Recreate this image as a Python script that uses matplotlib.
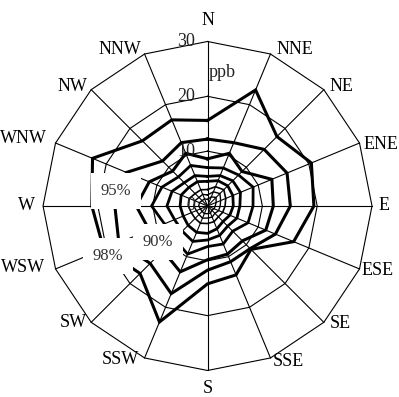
import numpy as np
import matplotlib
matplotlib.use("Agg")
import matplotlib.pyplot as plt

plt.rcParams['font.family'] = ['Liberation Serif', 'DejaVu Serif']

# wind sectors, clockwise from north
dirs = ['N', 'NNE', 'NE', 'ENE', 'E', 'ESE', 'SE', 'SSE',
        'S', 'SSW', 'SW', 'WSW', 'W', 'WNW', 'NW', 'NNW']

# concentration percentiles per sector (ppb), innermost first
p10 = [1.2, 1.8, 2.2, 1.7, 1.4, 1.3, 1.1, 1.4, 1.4, 1.5, 1.4, 1.4, 1.6, 1.6, 1.4, 1.4]
p25 = [2.0, 2.8, 3.2, 2.6, 2.3, 2.2, 1.9, 2.2, 2.2, 2.4, 2.2, 2.2, 2.5, 2.5, 2.2, 2.3]
p50 = [3.0, 3.8, 4.2, 3.6, 3.2, 3.0, 2.8, 3.1, 3.2, 3.4, 3.2, 3.2, 3.5, 3.6, 3.2, 3.2]
p75 = [4.5, 5.0, 5.2, 5.0, 4.7, 4.4, 4.0, 4.5, 5.0, 5.2, 5.0, 4.8, 5.0, 5.2, 4.8, 4.8]
p80 = [5.4, 6.0, 6.5, 6.5, 5.9, 5.8, 5.2, 5.8, 6.2, 7.0, 6.5, 6.5, 7.4, 7.0, 6.0, 6.0]
p85 = [7.0, 7.5, 8.0, 9.0, 8.3, 8.0, 6.5, 7.5, 7.4, 9.5, 8.5, 8.5, 10.2, 9.0, 7.5, 8.0]
p90 = [8.6, 10.4, 8.9, 12.7, 12.0, 11.5, 9.0, 9.5, 9.8, 13.0, 11.5, 11.5, 13.0, 11.5, 9.0, 10.4]
p95 = [12.2, 12.5, 14.6, 15.7, 15.1, 13.4, 11.0, 11.0, 11.7, 17.3, 14.8, 17.5, 16.9, 16.0, 11.6, 12.5]
p98 = [15.6, 22.9, 17.9, 20.5, 19.4, 17.0, 11.2, 13.6, 14.2, 22.9, 17.4, 20.5, 21.1, 22.7, 16.8, 17.0]

series = [p10, p25, p50, p75, p80, p85, p90, p95, p98]
widths = [1.0, 1.0, 1.2, 2.0, 2.0, 2.0, 2.2, 2.2, 2.2]

rings = [10, 20, 30]
ring_labels = ['0', '10', '20', '30']

# label placement (compass deg, radius in ppb)
dir_lab_ang = [0, 29.3, 48.3, 70.4, 90, 110.6, 131.4, 152.6,
               180, 209.6, 229, 251.5, 270, 290.1, 311.5, 330.7]
dir_lab_r = [33.9, 32.7, 32.8, 33.6, 32.1, 33.2, 32.3, 31.9,
             33.2, 32.3, 32.5, 35.5, 33.0, 35.8, 33.0, 32.7]
pct_text = ['95%', '90%', '98%']
pct_ang = [279.3, 234.0, 243.3]
pct_r = [16.9, 11.2, 20.3]

theta = np.deg2rad(np.arange(len(dirs)) * 360.0 / len(dirs))
theta_c = np.append(theta, theta[0])

fig = plt.figure(figsize=(3.99, 3.97), dpi=100)
ax = fig.add_axes([0.1078, 0.0668, 0.8246, 0.8287], projection='polar')
ax.set_theta_zero_location('N')
ax.set_theta_direction(-1)
ax.set_ylim(0, 30)
ax.set_axis_off()

# grid: spokes and polygon rings
for t in theta:
    ax.plot([t, t], [0, 30], color='black', lw=0.8, clip_on=False)
for rr in rings:
    ax.plot(theta_c, [rr] * len(theta_c), color='black', lw=0.8, clip_on=False)

for s, w in zip(series, widths):
    ax.plot(theta_c, s + s[:1], color='black', lw=w, solid_joinstyle='miter',
            clip_on=False, zorder=3)

for i, lab in enumerate(ring_labels):
    ax.annotate(lab, xy=(0, i * 10), xytext=(-9, 0), textcoords='offset points',
                ha='right', va='center', fontsize=13, color='#222222', zorder=4)
ax.annotate('ppb', xy=(0, 24.4), xytext=(1, 0), textcoords='offset points',
            ha='left', va='center', fontsize=13, color='#222222', zorder=4)

for lab, a, r in zip(dirs, dir_lab_ang, dir_lab_r):
    ax.text(np.deg2rad(a), r, lab, ha='center', va='center', fontsize=13,
            color='black')

for lab, a, r in zip(pct_text, pct_ang, pct_r):
    ax.text(np.deg2rad(a), r, lab, ha='center', va='center', fontsize=12,
            color='#333333', zorder=5,
            bbox=dict(boxstyle='square,pad=0.6', fc='white', ec='none'))

fig.savefig('out.png', dpi=100)
